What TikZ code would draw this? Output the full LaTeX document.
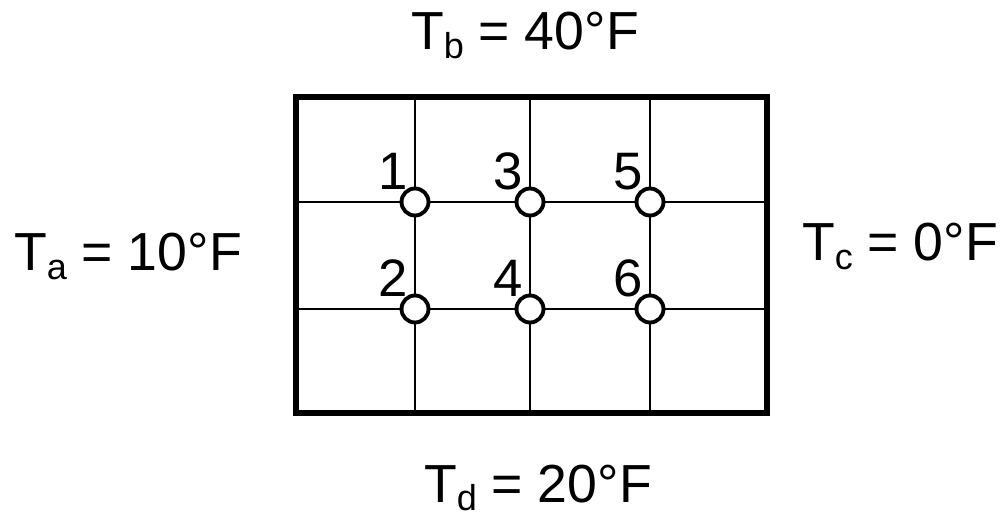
\documentclass[tikz,border=0pt]{standalone}
\usepackage{fontspec}
\setmainfont{Liberation Sans}
\usepackage{tikz}
\usetikzlibrary{positioning,calc}
\newcommand{\lowidx}[1]{\raisebox{-0.17cm}[\height][0pt]{\fontsize{20.5}{24}\selectfont #1}}

\begin{document}
\begin{tikzpicture}[
  x=0.02cm, y=-0.02cm,
  temp/.style={font=\fontsize{30.5}{36}\selectfont, inner sep=0pt, anchor=base},
  num/.style={font=\fontsize{30}{36}\selectfont, inner sep=0pt, anchor=base east},
  pt/.style={draw, circle, fill=white, line width=2.2pt, minimum size=0.54cm, inner sep=0pt},
  grid/.style={line width=1.5pt},
  frame/.style={line width=2.9pt}
]
  \useasboundingbox (0,0) rectangle (1000,516);

  % Inner grid lines
  \foreach \x in {415,530,650} {
    \draw[grid] (\x,97) -- (\x,413);
  }
  \foreach \y in {202,309} {
    \draw[grid] (296,\y) -- (767,\y);
  }

  % Plate outline
  \draw[frame] (296,97) rectangle (767,413);

  % Nodes and their numbers
  \foreach \n/\x/\y in {1/415/202, 2/415/309, 3/530/202, 4/530/309, 5/650/202, 6/650/309} {
    \node[pt] (p\n) at (\x,\y) {};
    \node[num] (n\n) at (\x-7,\y-12) {\n};
  }

  % Boundary temperatures
  \node[temp] (tb) at (525,50) {T\lowidx{b} = 40°F};
  \node[temp] (ta) at (128,271) {T\lowidx{a} = 10°F};
  \node[temp] (tc) at (900,261) {T\lowidx{c} = 0°F};
  \node[temp] (td) at (538,502) {T\lowidx{d} = 20°F};
\end{tikzpicture}
\end{document}
